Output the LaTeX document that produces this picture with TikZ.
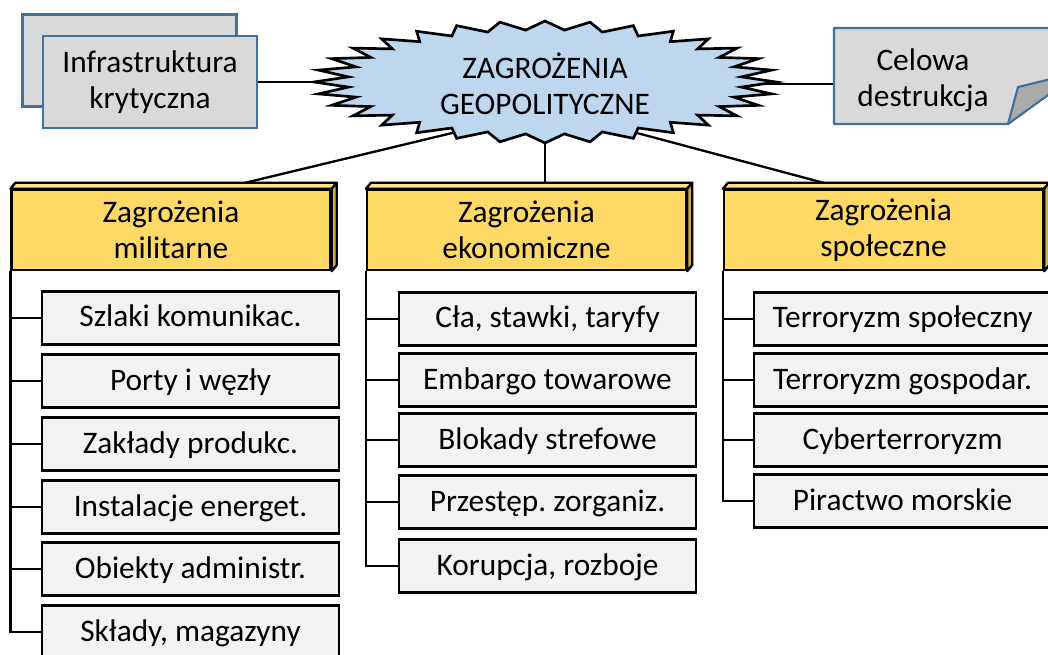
\documentclass[tikz,border=0pt]{standalone}
\usepackage{fontspec}
\setmainfont{Carlito}
\frenchspacing
\usetikzlibrary{calc,backgrounds,shapes.geometric}

\definecolor{frameblue}{HTML}{41719C}
\definecolor{cardgray}{HTML}{D9D9D9}
\definecolor{foldgray}{HTML}{ABABAB}
\definecolor{starblue}{HTML}{BDD7EE}
\definecolor{headyellow}{HTML}{FFD966}
\definecolor{headtop}{HTML}{FFE08A}
\definecolor{headside}{HTML}{CCAD52}
\definecolor{leafgray}{HTML}{F2F2F2}

\begin{document}
\begin{tikzpicture}[
  x=0.75pt, y=-0.75pt,
  declare function={sr(\k)=ifthenelse(mod(\k,2)==0,1,0.855);},
  txt/.style={font=\fontsize{23.5}{27}\selectfont, text=black, align=center, inner sep=0pt},
  card/.style={txt, draw=frameblue, fill=cardgray, line width=1.6pt,
    minimum width=160.5pt, minimum height=69pt},
  head/.style={txt, draw=black, fill=headyellow, line width=1.75pt,
    minimum width=239.25pt, minimum height=60pt},
  leaf/.style={txt, draw=black, fill=leafgray, line width=1.75pt,
    minimum width=222.75pt, minimum height=39.75pt, text height=20pt, text depth=6.5pt},
  link/.style={draw=black, line width=1.75pt},
  face/.style={draw=black, line width=1.75pt, line join=round},
]
\useasboundingbox (0,0) rectangle (1048,655);

% infrastructure card, stacked
\node[card] (infraback) at (129.5,60.5) {};
\node[card] (infra) at (150,82) {Infrastruktura\\krytyczna};

% burst behind the central title
\draw[fill=starblue, line width=2pt, line join=miter]
  plot[samples at={0,...,63}, variable=\k]
  ({545+231*sr(\k)*cos(\k*5.625)}, {82+61*sr(\k)*sin(\k*5.625)}) -- cycle;
\node[txt, ellipse, minimum width=295.5pt, minimum height=78pt] (star) at (545,84)
  {ZAGROŻENIA\\GEOPOLITYCZNE};

% note card with a folded corner
\draw[fill=cardgray, draw=frameblue, line width=1.6pt, line join=round]
  (834,28) -- (1080,28) -- (1080,70) -- (1008,124) -- (834,124) -- cycle;
\draw[fill=foldgray, draw=frameblue, line width=1.6pt, line join=round]
  (1008,124) -- (1018,87) -- (1080,72) -- cycle;
\node[txt, minimum width=133.5pt, minimum height=72pt] (cel) at (923,80)
  {Celowa\\destrukcja};

% three threat categories
\node[head] (h1) at (171,230) {Zagrożenia\\militarne};
\node[head] (h2) at (526.5,230) {Zagrożenia\\ekonomiczne};
\node[head] (h3) at (883.5,230) {Zagrożenia\\społeczne};
\foreach \h in {h1,h2,h3} {
  \filldraw[face, fill=headtop] (\h.north west) -- ++(5,-6)
    -- ($(\h.north east)+(5,-6)$) -- (\h.north east) -- cycle;
  \filldraw[face, fill=headside] (\h.north east) -- ++(5,-6)
    -- ($(\h.south east)+(5,-6)$) -- (\h.south east) -- cycle;
}

% military
\node[leaf] (m1) at (190.5,318) {Szlaki komunikac.};
\node[leaf] (m2) at (190.5,381) {Porty i węzły};
\node[leaf] (m3) at (190.5,444) {Zakłady produkc.};
\node[leaf] (m4) at (190.5,507) {Instalacje energet.};
\node[leaf] (m5) at (190.5,569) {Obiekty administr.};
\node[leaf] (m6) at (190.5,632) {Składy, magazyny};

% economic
\node[leaf] (e1) at (547.5,319) {Cła, stawki, taryfy};
\node[leaf] (e2) at (547.5,380) {Embargo towarowe};
\node[leaf] (e3) at (547.5,440) {Blokady strefowe};
\node[leaf] (e4) at (547.5,502) {Przestęp. zorganiz.};
\node[leaf] (e5) at (547.5,566) {Korupcja, rozboje};

% social
\node[leaf] (s1) at (902.5,319) {Terroryzm społeczny};
\node[leaf] (s2) at (902.5,380) {Terroryzm gospodar.};
\node[leaf] (s3) at (902.5,440) {Cyberterroryzm};
\node[leaf] (s4) at (902.5,501) {Piractwo morskie};

\begin{scope}[on background layer]
  \draw[link] (infra.east) -- (infra.east -| star.west);
  \draw[link] (star.east) -- (star.east -| cel.west);
  \draw[link] (star.209) -- ($(h1.north)+(74,-6)$);
  \draw[link] (star.south) -- (star.south |- h2.north);
  \draw[link] (star.331) -- ($(h3.north)+(-60,-6)$);
  \foreach \c in {m1,m2,m3,m4,m5,m6} \draw[link] (h1.south west) |- (\c.west);
  \foreach \c in {e1,e2,e3,e4,e5} \draw[link] (h2.south west) |- (\c.west);
  \foreach \c in {s1,s2,s3,s4} \draw[link] (h3.south west) |- (\c.west);
\end{scope}
\end{tikzpicture}
\end{document}
